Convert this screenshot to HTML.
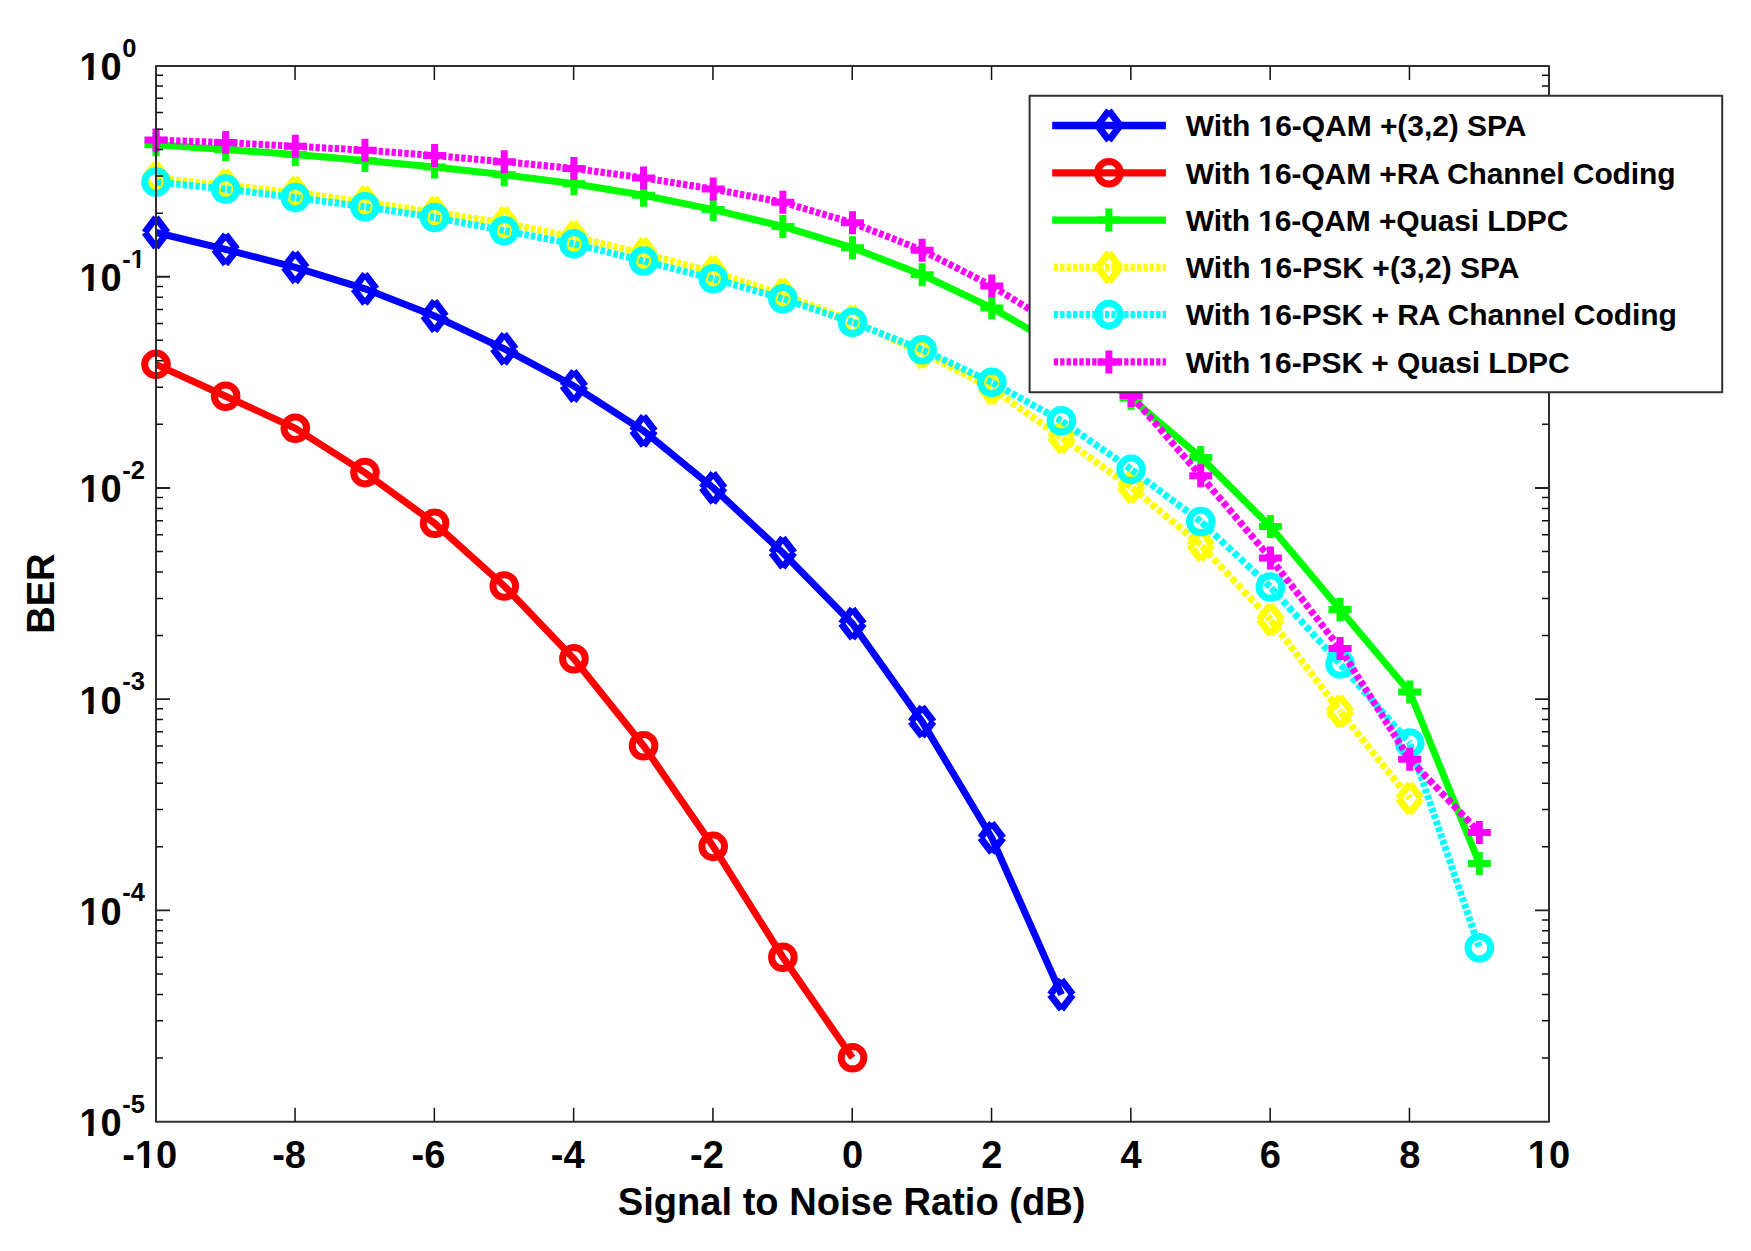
<!DOCTYPE html>
<html lang="en"><head><meta charset="utf-8"><title>BER vs SNR</title>
<style>
html,body{margin:0;padding:0;background:#fff;}
body{width:1751px;height:1251px;overflow:hidden;}
svg{display:block;}
text{font-family:"Liberation Sans",Arial,Helvetica,sans-serif;font-weight:bold;fill:#000;}
.tk{font-size:38px;}
.sup{font-size:25.5px;}
.lab{font-size:38.1px;}
.lg{font-size:30px;}
</style></head><body>
<svg width="1751" height="1251" viewBox="0 0 1751 1251">
<rect x="0" y="0" width="1751" height="1251" fill="#ffffff"/>
<g id="s-blue" stroke="#0000ff">
<polyline points="156,232.5 225.65,249.4 295.3,267.4 364.95,288.8 434.6,316 504.25,348.8 573.9,386 643.55,430.8 713.2,487.9 782.85,552.7 852.5,623.7 922.15,721.6 991.8,837.8 1061.45,994.6" fill="none" stroke-width="7" stroke-linejoin="miter"/>
<path d="M167.3 232.5L156 247.3M156 247.3L144.7 232.5M144.7 232.5L156 217.7M156 217.7L167.3 232.5M236.95 249.4L225.65 264.2M225.65 264.2L214.35 249.4M214.35 249.4L225.65 234.6M225.65 234.6L236.95 249.4M306.6 267.4L295.3 282.2M295.3 282.2L284 267.4M284 267.4L295.3 252.6M295.3 252.6L306.6 267.4M376.25 288.8L364.95 303.6M364.95 303.6L353.65 288.8M353.65 288.8L364.95 274M364.95 274L376.25 288.8M445.9 316L434.6 330.8M434.6 330.8L423.3 316M423.3 316L434.6 301.2M434.6 301.2L445.9 316M515.55 348.8L504.25 363.6M504.25 363.6L492.95 348.8M492.95 348.8L504.25 334M504.25 334L515.55 348.8M585.2 386L573.9 400.8M573.9 400.8L562.6 386M562.6 386L573.9 371.2M573.9 371.2L585.2 386M654.85 430.8L643.55 445.6M643.55 445.6L632.25 430.8M632.25 430.8L643.55 416M643.55 416L654.85 430.8M724.5 487.9L713.2 502.7M713.2 502.7L701.9 487.9M701.9 487.9L713.2 473.1M713.2 473.1L724.5 487.9M794.15 552.7L782.85 567.5M782.85 567.5L771.55 552.7M771.55 552.7L782.85 537.9M782.85 537.9L794.15 552.7M863.8 623.7L852.5 638.5M852.5 638.5L841.2 623.7M841.2 623.7L852.5 608.9M852.5 608.9L863.8 623.7M933.45 721.6L922.15 736.4M922.15 736.4L910.85 721.6M910.85 721.6L922.15 706.8M922.15 706.8L933.45 721.6M1003.1 837.8L991.8 852.6M991.8 852.6L980.5 837.8M980.5 837.8L991.8 823M991.8 823L1003.1 837.8M1072.75 994.6L1061.45 1009.4M1061.45 1009.4L1050.15 994.6M1050.15 994.6L1061.45 979.8M1061.45 979.8L1072.75 994.6" fill="none" stroke-width="7" stroke-linecap="butt"/>
</g>
<g id="s-red" stroke="#ff0000">
<polyline points="156,364.4 225.65,396.2 295.3,428.3 364.95,472.6 434.6,523.3 504.25,586 573.9,658.8 643.55,745.7 713.2,846.4 782.85,957.2 852.5,1057.8" fill="none" stroke-width="7" stroke-linejoin="miter"/>
<circle cx="156" cy="364.4" r="11.3" fill="none" stroke-width="7"/><circle cx="225.65" cy="396.2" r="11.3" fill="none" stroke-width="7"/><circle cx="295.3" cy="428.3" r="11.3" fill="none" stroke-width="7"/><circle cx="364.95" cy="472.6" r="11.3" fill="none" stroke-width="7"/><circle cx="434.6" cy="523.3" r="11.3" fill="none" stroke-width="7"/><circle cx="504.25" cy="586" r="11.3" fill="none" stroke-width="7"/><circle cx="573.9" cy="658.8" r="11.3" fill="none" stroke-width="7"/><circle cx="643.55" cy="745.7" r="11.3" fill="none" stroke-width="7"/><circle cx="713.2" cy="846.4" r="11.3" fill="none" stroke-width="7"/><circle cx="782.85" cy="957.2" r="11.3" fill="none" stroke-width="7"/><circle cx="852.5" cy="1057.8" r="11.3" fill="none" stroke-width="7"/>
</g>
<g id="s-green" stroke="#00ff00">
<polyline points="156,144.8 225.65,149.4 295.3,154.6 364.95,160.5 434.6,166.9 504.25,174.7 573.9,183.8 643.55,195.3 713.2,209.6 782.85,226.4 852.5,247.8 922.15,274.8 991.8,307.9 1061.45,347.6 1131.1,398.3 1200.75,457.4 1270.4,526.5 1340.05,609.6 1409.7,692 1479.35,863.4" fill="none" stroke-width="7" stroke-linejoin="miter"/>
<path d="M144.5 144.8H167.5M156 133.3V156.3M214.15 149.4H237.15M225.65 137.9V160.9M283.8 154.6H306.8M295.3 143.1V166.1M353.45 160.5H376.45M364.95 149V172M423.1 166.9H446.1M434.6 155.4V178.4M492.75 174.7H515.75M504.25 163.2V186.2M562.4 183.8H585.4M573.9 172.3V195.3M632.05 195.3H655.05M643.55 183.8V206.8M701.7 209.6H724.7M713.2 198.1V221.1M771.35 226.4H794.35M782.85 214.9V237.9M841 247.8H864M852.5 236.3V259.3M910.65 274.8H933.65M922.15 263.3V286.3M980.3 307.9H1003.3M991.8 296.4V319.4M1049.95 347.6H1072.95M1061.45 336.1V359.1M1119.6 398.3H1142.6M1131.1 386.8V409.8M1189.25 457.4H1212.25M1200.75 445.9V468.9M1258.9 526.5H1281.9M1270.4 515V538M1328.55 609.6H1351.55M1340.05 598.1V621.1M1398.2 692H1421.2M1409.7 680.5V703.5M1467.85 863.4H1490.85M1479.35 851.9V874.9" fill="none" stroke-width="7" stroke-linecap="butt"/>
</g>
<g id="s-yellow" stroke="#ffff00">
<line x1="156" y1="178.2" x2="225.65" y2="185.2" stroke-width="7" stroke-dasharray="4.32 2.11" stroke-dashoffset="5.43"/>
<line x1="225.65" y1="185.2" x2="295.3" y2="192.5" stroke-width="7" stroke-dasharray="4.32 2.11" stroke-dashoffset="5.43"/>
<line x1="295.3" y1="192.5" x2="364.95" y2="202" stroke-width="7" stroke-dasharray="4.34 2.12" stroke-dashoffset="5.45"/>
<line x1="364.95" y1="202" x2="434.6" y2="212.3" stroke-width="7" stroke-dasharray="4.35 2.12" stroke-dashoffset="5.46"/>
<line x1="434.6" y1="212.3" x2="504.25" y2="222.9" stroke-width="7" stroke-dasharray="4.35 2.12" stroke-dashoffset="5.46"/>
<line x1="504.25" y1="222.9" x2="573.9" y2="236.9" stroke-width="7" stroke-dasharray="4.39 2.14" stroke-dashoffset="5.51"/>
<line x1="573.9" y1="236.9" x2="643.55" y2="253.6" stroke-width="7" stroke-dasharray="4.42 2.16" stroke-dashoffset="5.55"/>
<line x1="643.55" y1="253.6" x2="713.2" y2="272" stroke-width="7" stroke-dasharray="4.45 2.17" stroke-dashoffset="5.59"/>
<line x1="713.2" y1="272" x2="782.85" y2="294.3" stroke-width="7" stroke-dasharray="4.52 2.21" stroke-dashoffset="5.67"/>
<line x1="782.85" y1="294.3" x2="852.5" y2="321.1" stroke-width="7" stroke-dasharray="4.61 2.25" stroke-dashoffset="5.79"/>
<line x1="852.5" y1="321.1" x2="922.15" y2="352.4" stroke-width="7" stroke-dasharray="4.71 2.3" stroke-dashoffset="5.92"/>
<line x1="922.15" y1="352.4" x2="991.8" y2="388.3" stroke-width="7" stroke-dasharray="4.84 2.36" stroke-dashoffset="6.08"/>
<line x1="991.8" y1="388.3" x2="1061.45" y2="437.4" stroke-width="7" stroke-dasharray="5.26 2.57" stroke-dashoffset="6.61"/>
<line x1="1061.45" y1="437.4" x2="1131.1" y2="487" stroke-width="7" stroke-dasharray="5.28 2.58" stroke-dashoffset="6.63"/>
<line x1="1131.1" y1="487" x2="1200.75" y2="545" stroke-width="7" stroke-dasharray="5.6 2.73" stroke-dashoffset="7.03"/>
<line x1="1200.75" y1="545" x2="1270.4" y2="619.6" stroke-width="7" stroke-dasharray="5.88 2.87" stroke-dashoffset="7.39"/>
<line x1="1270.4" y1="619.6" x2="1340.05" y2="711.3" stroke-width="7" stroke-dasharray="5.4 2.64" stroke-dashoffset="6.78"/>
<line x1="1340.05" y1="711.3" x2="1409.7" y2="798.4" stroke-width="7" stroke-dasharray="5.51 2.69" stroke-dashoffset="6.91"/>
<path d="M167.3 178.2L156 193M156 193L144.7 178.2M144.7 178.2L156 163.4M156 163.4L167.3 178.2M236.95 185.2L225.65 200M225.65 200L214.35 185.2M214.35 185.2L225.65 170.4M225.65 170.4L236.95 185.2M306.6 192.5L295.3 207.3M295.3 207.3L284 192.5M284 192.5L295.3 177.7M295.3 177.7L306.6 192.5M376.25 202L364.95 216.8M364.95 216.8L353.65 202M353.65 202L364.95 187.2M364.95 187.2L376.25 202M445.9 212.3L434.6 227.1M434.6 227.1L423.3 212.3M423.3 212.3L434.6 197.5M434.6 197.5L445.9 212.3M515.55 222.9L504.25 237.7M504.25 237.7L492.95 222.9M492.95 222.9L504.25 208.1M504.25 208.1L515.55 222.9M585.2 236.9L573.9 251.7M573.9 251.7L562.6 236.9M562.6 236.9L573.9 222.1M573.9 222.1L585.2 236.9M654.85 253.6L643.55 268.4M643.55 268.4L632.25 253.6M632.25 253.6L643.55 238.8M643.55 238.8L654.85 253.6M724.5 272L713.2 286.8M713.2 286.8L701.9 272M701.9 272L713.2 257.2M713.2 257.2L724.5 272M794.15 294.3L782.85 309.1M782.85 309.1L771.55 294.3M771.55 294.3L782.85 279.5M782.85 279.5L794.15 294.3M863.8 321.1L852.5 335.9M852.5 335.9L841.2 321.1M841.2 321.1L852.5 306.3M852.5 306.3L863.8 321.1M933.45 352.4L922.15 367.2M922.15 367.2L910.85 352.4M910.85 352.4L922.15 337.6M922.15 337.6L933.45 352.4M1003.1 388.3L991.8 403.1M991.8 403.1L980.5 388.3M980.5 388.3L991.8 373.5M991.8 373.5L1003.1 388.3M1072.75 437.4L1061.45 452.2M1061.45 452.2L1050.15 437.4M1050.15 437.4L1061.45 422.6M1061.45 422.6L1072.75 437.4M1142.4 487L1131.1 501.8M1131.1 501.8L1119.8 487M1119.8 487L1131.1 472.2M1131.1 472.2L1142.4 487M1212.05 545L1200.75 559.8M1200.75 559.8L1189.45 545M1189.45 545L1200.75 530.2M1200.75 530.2L1212.05 545M1281.7 619.6L1270.4 634.4M1270.4 634.4L1259.1 619.6M1259.1 619.6L1270.4 604.8M1270.4 604.8L1281.7 619.6M1351.35 711.3L1340.05 726.1M1340.05 726.1L1328.75 711.3M1328.75 711.3L1340.05 696.5M1340.05 696.5L1351.35 711.3M1421 798.4L1409.7 813.2M1409.7 813.2L1398.4 798.4M1398.4 798.4L1409.7 783.6M1409.7 783.6L1421 798.4" fill="none" stroke-width="7" stroke-linecap="butt"/>
</g>
<g id="s-cyan" stroke="#00ffff">
<line x1="156" y1="182.1" x2="225.65" y2="189.1" stroke-width="7" stroke-dasharray="4.32 2.11" stroke-dashoffset="5.43"/>
<line x1="225.65" y1="189.1" x2="295.3" y2="197.6" stroke-width="7" stroke-dasharray="4.33 2.12" stroke-dashoffset="5.44"/>
<line x1="295.3" y1="197.6" x2="364.95" y2="206.8" stroke-width="7" stroke-dasharray="4.34 2.12" stroke-dashoffset="5.45"/>
<line x1="364.95" y1="206.8" x2="434.6" y2="217.5" stroke-width="7" stroke-dasharray="4.35 2.12" stroke-dashoffset="5.46"/>
<line x1="434.6" y1="217.5" x2="504.25" y2="230.7" stroke-width="7" stroke-dasharray="4.38 2.14" stroke-dashoffset="5.5"/>
<line x1="504.25" y1="230.7" x2="573.9" y2="243.9" stroke-width="7" stroke-dasharray="4.38 2.14" stroke-dashoffset="5.5"/>
<line x1="573.9" y1="243.9" x2="643.55" y2="261" stroke-width="7" stroke-dasharray="4.43 2.16" stroke-dashoffset="5.56"/>
<line x1="643.55" y1="261" x2="713.2" y2="278.8" stroke-width="7" stroke-dasharray="4.44 2.17" stroke-dashoffset="5.57"/>
<line x1="713.2" y1="278.8" x2="782.85" y2="298.7" stroke-width="7" stroke-dasharray="4.47 2.18" stroke-dashoffset="5.62"/>
<line x1="782.85" y1="298.7" x2="852.5" y2="322.2" stroke-width="7" stroke-dasharray="4.54 2.22" stroke-dashoffset="5.7"/>
<line x1="852.5" y1="322.2" x2="922.15" y2="349.7" stroke-width="7" stroke-dasharray="4.62 2.26" stroke-dashoffset="5.81"/>
<line x1="922.15" y1="349.7" x2="991.8" y2="382.3" stroke-width="7" stroke-dasharray="4.75 2.32" stroke-dashoffset="5.96"/>
<line x1="991.8" y1="382.3" x2="1061.45" y2="420.8" stroke-width="7" stroke-dasharray="4.91 2.4" stroke-dashoffset="6.17"/>
<line x1="1061.45" y1="420.8" x2="1131.1" y2="469.4" stroke-width="7" stroke-dasharray="5.24 2.56" stroke-dashoffset="6.58"/>
<line x1="1131.1" y1="469.4" x2="1200.75" y2="521.5" stroke-width="7" stroke-dasharray="5.37 2.62" stroke-dashoffset="6.74"/>
<line x1="1200.75" y1="521.5" x2="1270.4" y2="587" stroke-width="7" stroke-dasharray="5.9 2.88" stroke-dashoffset="7.41"/>
<line x1="1270.4" y1="587" x2="1340.05" y2="663.9" stroke-width="7" stroke-dasharray="5.8 2.83" stroke-dashoffset="7.29"/>
<line x1="1340.05" y1="663.9" x2="1409.7" y2="743" stroke-width="7" stroke-dasharray="5.73 2.8" stroke-dashoffset="7.2"/>
<line x1="1409.7" y1="743" x2="1479.35" y2="947.8" stroke-width="7" stroke-dasharray="4.54 2.22" stroke-dashoffset="5.7"/>
<circle cx="156" cy="182.1" r="11.3" fill="none" stroke-width="7"/><circle cx="225.65" cy="189.1" r="11.3" fill="none" stroke-width="7"/><circle cx="295.3" cy="197.6" r="11.3" fill="none" stroke-width="7"/><circle cx="364.95" cy="206.8" r="11.3" fill="none" stroke-width="7"/><circle cx="434.6" cy="217.5" r="11.3" fill="none" stroke-width="7"/><circle cx="504.25" cy="230.7" r="11.3" fill="none" stroke-width="7"/><circle cx="573.9" cy="243.9" r="11.3" fill="none" stroke-width="7"/><circle cx="643.55" cy="261" r="11.3" fill="none" stroke-width="7"/><circle cx="713.2" cy="278.8" r="11.3" fill="none" stroke-width="7"/><circle cx="782.85" cy="298.7" r="11.3" fill="none" stroke-width="7"/><circle cx="852.5" cy="322.2" r="11.3" fill="none" stroke-width="7"/><circle cx="922.15" cy="349.7" r="11.3" fill="none" stroke-width="7"/><circle cx="991.8" cy="382.3" r="11.3" fill="none" stroke-width="7"/><circle cx="1061.45" cy="420.8" r="11.3" fill="none" stroke-width="7"/><circle cx="1131.1" cy="469.4" r="11.3" fill="none" stroke-width="7"/><circle cx="1200.75" cy="521.5" r="11.3" fill="none" stroke-width="7"/><circle cx="1270.4" cy="587" r="11.3" fill="none" stroke-width="7"/><circle cx="1340.05" cy="663.9" r="11.3" fill="none" stroke-width="7"/><circle cx="1409.7" cy="743" r="11.3" fill="none" stroke-width="7"/><circle cx="1479.35" cy="947.8" r="11.3" fill="none" stroke-width="7"/>
</g>
<g id="s-magenta" stroke="#ff00ff">
<line x1="156" y1="140" x2="225.65" y2="142.6" stroke-width="7" stroke-dasharray="4.3 2.1" stroke-dashoffset="5.4"/>
<line x1="225.65" y1="142.6" x2="295.3" y2="146.3" stroke-width="7" stroke-dasharray="4.31 2.1" stroke-dashoffset="5.41"/>
<line x1="295.3" y1="146.3" x2="364.95" y2="150.2" stroke-width="7" stroke-dasharray="4.31 2.1" stroke-dashoffset="5.41"/>
<line x1="364.95" y1="150.2" x2="434.6" y2="155.6" stroke-width="7" stroke-dasharray="4.31 2.11" stroke-dashoffset="5.42"/>
<line x1="434.6" y1="155.6" x2="504.25" y2="161.7" stroke-width="7" stroke-dasharray="4.32 2.11" stroke-dashoffset="5.42"/>
<line x1="504.25" y1="161.7" x2="573.9" y2="168.5" stroke-width="7" stroke-dasharray="4.32 2.11" stroke-dashoffset="5.43"/>
<line x1="573.9" y1="168.5" x2="643.55" y2="177.9" stroke-width="7" stroke-dasharray="4.34 2.12" stroke-dashoffset="5.45"/>
<line x1="643.55" y1="177.9" x2="713.2" y2="189.1" stroke-width="7" stroke-dasharray="4.36 2.13" stroke-dashoffset="5.47"/>
<line x1="713.2" y1="189.1" x2="782.85" y2="202.3" stroke-width="7" stroke-dasharray="4.38 2.14" stroke-dashoffset="5.5"/>
<line x1="782.85" y1="202.3" x2="852.5" y2="222.8" stroke-width="7" stroke-dasharray="4.48 2.19" stroke-dashoffset="5.63"/>
<line x1="852.5" y1="222.8" x2="922.15" y2="250.3" stroke-width="7" stroke-dasharray="4.62 2.26" stroke-dashoffset="5.81"/>
<line x1="922.15" y1="250.3" x2="991.8" y2="285.9" stroke-width="7" stroke-dasharray="4.83 2.36" stroke-dashoffset="6.06"/>
<line x1="991.8" y1="285.9" x2="1061.45" y2="329" stroke-width="7" stroke-dasharray="5.06 2.47" stroke-dashoffset="6.35"/>
<line x1="1061.45" y1="329" x2="1131.1" y2="395.4" stroke-width="7" stroke-dasharray="5.94 2.9" stroke-dashoffset="7.46"/>
<line x1="1131.1" y1="395.4" x2="1200.75" y2="475.7" stroke-width="7" stroke-dasharray="5.69 2.78" stroke-dashoffset="7.15"/>
<line x1="1200.75" y1="475.7" x2="1270.4" y2="558.1" stroke-width="7" stroke-dasharray="5.63 2.75" stroke-dashoffset="7.07"/>
<line x1="1270.4" y1="558.1" x2="1340.05" y2="648.4" stroke-width="7" stroke-dasharray="5.43 2.65" stroke-dashoffset="6.82"/>
<line x1="1340.05" y1="648.4" x2="1409.7" y2="759.3" stroke-width="7" stroke-dasharray="5.08 2.48" stroke-dashoffset="6.38"/>
<line x1="1409.7" y1="759.3" x2="1479.35" y2="832.6" stroke-width="7" stroke-dasharray="5.93 2.9" stroke-dashoffset="7.45"/>
<path d="M144.5 140H167.5M156 128.5V151.5M214.15 142.6H237.15M225.65 131.1V154.1M283.8 146.3H306.8M295.3 134.8V157.8M353.45 150.2H376.45M364.95 138.7V161.7M423.1 155.6H446.1M434.6 144.1V167.1M492.75 161.7H515.75M504.25 150.2V173.2M562.4 168.5H585.4M573.9 157V180M632.05 177.9H655.05M643.55 166.4V189.4M701.7 189.1H724.7M713.2 177.6V200.6M771.35 202.3H794.35M782.85 190.8V213.8M841 222.8H864M852.5 211.3V234.3M910.65 250.3H933.65M922.15 238.8V261.8M980.3 285.9H1003.3M991.8 274.4V297.4M1049.95 329H1072.95M1061.45 317.5V340.5M1119.6 395.4H1142.6M1131.1 383.9V406.9M1189.25 475.7H1212.25M1200.75 464.2V487.2M1258.9 558.1H1281.9M1270.4 546.6V569.6M1328.55 648.4H1351.55M1340.05 636.9V659.9M1398.2 759.3H1421.2M1409.7 747.8V770.8M1467.85 832.6H1490.85M1479.35 821.1V844.1" fill="none" stroke-width="7" stroke-linecap="butt"/>
</g>
<g id="axes" fill="none" stroke="#303030">
<rect x="156" y="66" width="1393" height="1055.8" stroke-width="2" stroke-linejoin="round"/>
<path d="M295.05 1121.8v-14M295.05 66v14M434.35 1121.8v-14M434.35 66v14M573.65 1121.8v-14M573.65 66v14M712.95 1121.8v-14M712.95 66v14M852.25 1121.8v-14M852.25 66v14M991.55 1121.8v-14M991.55 66v14M1130.85 1121.8v-14M1130.85 66v14M1270.15 1121.8v-14M1270.15 66v14M1409.45 1121.8v-14M1409.45 66v14M156 213.17h7M1549 213.17h-7M156 175.98h7M1549 175.98h-7M156 149.59h7M1549 149.59h-7M156 129.13h7M1549 129.13h-7M156 112.4h7M1549 112.4h-7M156 98.27h7M1549 98.27h-7M156 86.02h7M1549 86.02h-7M156 75.21h7M1549 75.21h-7M156 424.37h7M1549 424.37h-7M156 387.18h7M1549 387.18h-7M156 360.79h7M1549 360.79h-7M156 340.33h7M1549 340.33h-7M156 323.6h7M1549 323.6h-7M156 309.47h7M1549 309.47h-7M156 297.22h7M1549 297.22h-7M156 286.41h7M1549 286.41h-7M156 635.57h7M1549 635.57h-7M156 598.38h7M1549 598.38h-7M156 571.99h7M1549 571.99h-7M156 551.53h7M1549 551.53h-7M156 534.8h7M1549 534.8h-7M156 520.67h7M1549 520.67h-7M156 508.42h7M1549 508.42h-7M156 497.61h7M1549 497.61h-7M156 846.77h7M1549 846.77h-7M156 809.58h7M1549 809.58h-7M156 783.19h7M1549 783.19h-7M156 762.73h7M1549 762.73h-7M156 746h7M1549 746h-7M156 731.87h7M1549 731.87h-7M156 719.62h7M1549 719.62h-7M156 708.81h7M1549 708.81h-7M156 1057.97h7M1549 1057.97h-7M156 1020.78h7M1549 1020.78h-7M156 994.39h7M1549 994.39h-7M156 973.93h7M1549 973.93h-7M156 957.2h7M1549 957.2h-7M156 943.07h7M1549 943.07h-7M156 930.82h7M1549 930.82h-7M156 920.01h7M1549 920.01h-7" stroke="#111" stroke-width="1.5"/>
<path d="M156 276.75h14M1549 276.75h-14M156 487.95h14M1549 487.95h-14M156 699.15h14M1549 699.15h-14M156 910.35h14M1549 910.35h-14" stroke="#222" stroke-width="1.9"/>
</g>
<g id="xticklabels" class="tk">
<text x="149.8" y="1168" text-anchor="middle">-10</text>
<text x="289.1" y="1168" text-anchor="middle">-8</text>
<text x="428.4" y="1168" text-anchor="middle">-6</text>
<text x="567.7" y="1168" text-anchor="middle">-4</text>
<text x="707" y="1168" text-anchor="middle">-2</text>
<text x="852.5" y="1168" text-anchor="middle">0</text>
<text x="991.8" y="1168" text-anchor="middle">2</text>
<text x="1131.1" y="1168" text-anchor="middle">4</text>
<text x="1270.4" y="1168" text-anchor="middle">6</text>
<text x="1409.7" y="1168" text-anchor="middle">8</text>
<text x="1549" y="1168" text-anchor="middle">10</text>
</g>
<g id="yticklabels">
<text class="tk" x="79.4" y="80">10</text>
<text class="sup" x="122.2" y="56.6">0</text>
<text class="tk" x="79.4" y="291.2">10</text>
<text class="sup" x="122.2" y="267.8">-1</text>
<text class="tk" x="79.4" y="502.4">10</text>
<text class="sup" x="122.2" y="479">-2</text>
<text class="tk" x="79.4" y="713.6">10</text>
<text class="sup" x="122.2" y="690.2">-3</text>
<text class="tk" x="79.4" y="924.8">10</text>
<text class="sup" x="122.2" y="901.4">-4</text>
<text class="tk" x="79.4" y="1136">10</text>
<text class="sup" x="122.2" y="1112.6">-5</text>
</g>
<text class="lab" x="851.6" y="1214.9" text-anchor="middle">Signal to Noise Ratio (dB)</text>
<text class="lab" transform="translate(53.7 593.6) rotate(-90)" text-anchor="middle">BER</text>
<g id="legend">
<rect x="1029.6" y="95.8" width="692.6" height="296.5" fill="#fff" stroke="#303030" stroke-width="2" stroke-linejoin="round"/>
<g stroke="#0000ff">
<path d="M1052.2 125.5H1165.9" fill="none" stroke-width="7.3"/>
<path d="M1120.2 125.5L1108.9 140.3M1108.9 140.3L1097.6 125.5M1097.6 125.5L1108.9 110.7M1108.9 110.7L1120.2 125.5" fill="none" stroke-width="7" stroke-linecap="butt"/>
</g>
<text class="lg" x="1185.8" y="136.3" textLength="340.6" lengthAdjust="spacing">With 16-QAM +(3,2) SPA</text>
<g stroke="#ff0000">
<path d="M1052.2 172.78H1165.9" fill="none" stroke-width="7.3"/>
<circle cx="1108.9" cy="172.78" r="11.3" fill="none" stroke-width="7"/>
</g>
<text class="lg" x="1185.8" y="183.58" textLength="489.8" lengthAdjust="spacing">With 16-QAM +RA Channel Coding</text>
<g stroke="#00ff00">
<path d="M1052.2 220.06H1165.9" fill="none" stroke-width="7.3"/>
<path d="M1097.4 220.06H1120.4M1108.9 208.56V231.56" fill="none" stroke-width="7" stroke-linecap="butt"/>
</g>
<text class="lg" x="1185.8" y="230.86" textLength="382.6" lengthAdjust="spacing">With 16-QAM +Quasi LDPC</text>
<g stroke="#ffff00">
<path d="M1052.2 267.34H1165.9" fill="none" stroke-width="7.3" stroke-dasharray="4.3 2.1" stroke-dashoffset="4.8"/>
<path d="M1120.2 267.34L1108.9 282.14M1108.9 282.14L1097.6 267.34M1097.6 267.34L1108.9 252.54M1108.9 252.54L1120.2 267.34" fill="none" stroke-width="7" stroke-linecap="butt"/>
</g>
<text class="lg" x="1185.8" y="278.14" textLength="333.7" lengthAdjust="spacing">With 16-PSK +(3,2) SPA</text>
<g stroke="#00ffff">
<path d="M1052.2 314.62H1165.9" fill="none" stroke-width="7.3" stroke-dasharray="4.3 2.1" stroke-dashoffset="4.8"/>
<circle cx="1108.9" cy="314.62" r="11.3" fill="none" stroke-width="7"/>
</g>
<text class="lg" x="1185.8" y="325.42" textLength="491.0" lengthAdjust="spacing">With 16-PSK + RA Channel Coding</text>
<g stroke="#ff00ff">
<path d="M1052.2 361.9H1165.9" fill="none" stroke-width="7.3" stroke-dasharray="4.3 2.1" stroke-dashoffset="4.8"/>
<path d="M1097.4 361.9H1120.4M1108.9 350.4V373.4" fill="none" stroke-width="7" stroke-linecap="butt"/>
</g>
<text class="lg" x="1185.8" y="372.7" textLength="383.9" lengthAdjust="spacing">With 16-PSK + Quasi LDPC</text>
</g>
<g id="digit-trim" fill="#ffffff">
<rect x="136.12" y="1163.52" width="7.73" height="5.28"/>
<rect x="149.06" y="1163.52" width="7.22" height="5.28"/>
<rect x="1529" y="1163.52" width="7.73" height="5.28"/>
<rect x="1541.94" y="1163.52" width="7.22" height="5.28"/>
<rect x="80.54" y="75.52" width="7.73" height="5.28"/>
<rect x="93.48" y="75.52" width="7.22" height="5.28"/>
<rect x="80.54" y="286.72" width="7.73" height="5.28"/>
<rect x="93.48" y="286.72" width="7.22" height="5.28"/>
<rect x="131.45" y="264.6" width="5.19" height="4"/>
<rect x="140.13" y="264.6" width="4.84" height="4"/>
<rect x="80.54" y="497.92" width="7.73" height="5.28"/>
<rect x="93.48" y="497.92" width="7.22" height="5.28"/>
<rect x="80.54" y="709.12" width="7.73" height="5.28"/>
<rect x="93.48" y="709.12" width="7.22" height="5.28"/>
<rect x="80.54" y="920.32" width="7.73" height="5.28"/>
<rect x="93.48" y="920.32" width="7.22" height="5.28"/>
<rect x="80.54" y="1131.52" width="7.73" height="5.28"/>
<rect x="93.48" y="1131.52" width="7.22" height="5.28"/>
<rect x="1259.47" y="132.64" width="6.1" height="4.46"/>
<rect x="1269.69" y="132.64" width="5.7" height="4.46"/>
<rect x="1259.23" y="179.92" width="6.1" height="4.46"/>
<rect x="1269.45" y="179.92" width="5.7" height="4.46"/>
<rect x="1259.06" y="227.2" width="6.1" height="4.46"/>
<rect x="1269.28" y="227.2" width="5.7" height="4.46"/>
<rect x="1259.81" y="274.48" width="6.1" height="4.46"/>
<rect x="1270.03" y="274.48" width="5.7" height="4.46"/>
<rect x="1259.44" y="321.76" width="6.1" height="4.46"/>
<rect x="1269.66" y="321.76" width="5.7" height="4.46"/>
<rect x="1259.37" y="369.04" width="6.1" height="4.46"/>
<rect x="1269.58" y="369.04" width="5.7" height="4.46"/>
</g>
</svg>
</body></html>
